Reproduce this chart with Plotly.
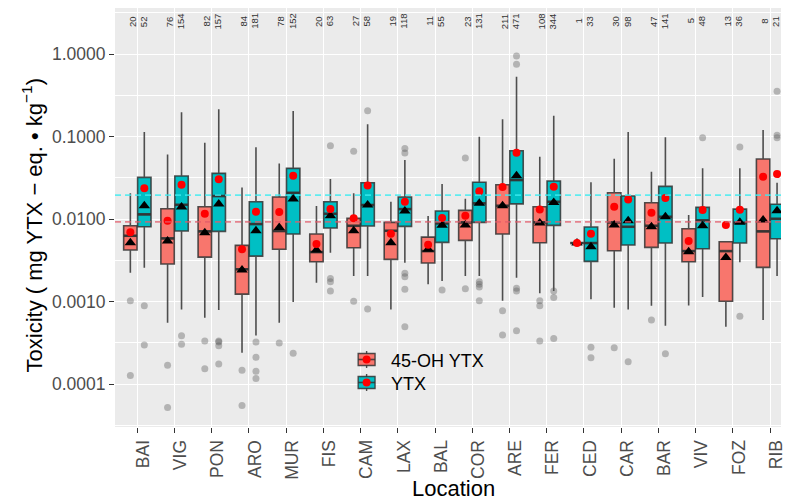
import numpy as np
import plotly.graph_objects as go

# ---------------- data ----------------
locations = ["BAI", "VIG", "PON", "ARO", "MUR", "FIS", "CAM", "LAX", "BAL",
             "COR", "ARE", "FER", "CED", "CAR", "BAR", "VIV", "FOZ", "RIB"]

# 45-OH YTX (mg YTX-eq./kg)
oh_n = [20, 76, 82, 84, 78, 20, 27, 19, 11, 23, 211, 108, 1, 30, 47, 5, 13, 8]
oh_q1 = [0.00421, 0.00285, 0.00346, 0.00123, 0.00430, 0.00304, 0.00449, 0.00325, 0.00293,
         0.00552, 0.00658, 0.00516, 0.00512, 0.00413, 0.00454, 0.00304, 0.00101, 0.00260]
oh_median = [0.00628, 0.00583, 0.00710, 0.00246, 0.00716, 0.00398, 0.00830, 0.00722, 0.00409,
             0.00912, 0.0145, 0.00912, 0.00512, 0.00912, 0.00830, 0.00409, 0.00409, 0.00710]
oh_q3 = [0.00830, 0.01333, 0.0141, 0.00480, 0.0185, 0.00658, 0.0102, 0.00912, 0.00605,
         0.01275, 0.0261, 0.0141, 0.00512, 0.0208, 0.0158, 0.00763, 0.00531, 0.0534]
oh_low = [0.00223, 0.000553, 0.000637, 0.000239, 0.000553, 0.00169, 0.00204, 0.000804, 0.00162,
          0.00204, 0.00102, 0.00126, 0.00512, 0.000841, 0.00089, 0.000899, 0.000495, 0.000597]
oh_high = [0.0205, 0.0608, 0.0841, 0.0242, 0.0473, 0.0144, 0.0205, 0.0162, 0.01087,
           0.0176, 0.1616, 0.0569, 0.00512, 0.0538, 0.0374, 0.0112, 0.00531, 0.120]
oh_mean = [0.0069, 0.00953, 0.0116, 0.0043, 0.01216, 0.00498, 0.0102, 0.00664, 0.00488,
           0.01096, 0.0244, 0.0131, 0.00512, 0.0141, 0.0119, 0.00541, 0.00846, 0.0326]
oh_gmean = [0.00516, 0.00541, 0.00682, 0.00241, 0.00793, 0.00421, 0.00722, 0.00516, 0.0043,
            0.00846, 0.0145, 0.00894, 0.00512, 0.00846, 0.00807, 0.00401, 0.00343, 0.00973]
oh_outliers = [[0.00102, 0.000127], [0.000169, 0.0000522], [0.000332, 0.000153],
               [0.000147, 0.0000552], [0.000314], [], [0.0662, 0.00101], [], [],
               [0.0549, 0.00143], [0.000774, 0.000393], [0.00102, 0.00089, 0.000332],
               [], [0.000275], [0.000597], [], [], []]

# YTX (mg YTX-eq./kg)
ytx_n = [52, 154, 157, 181, 152, 63, 58, 118, 55, 131, 471, 344, 33, 98, 141, 48, 36, 21]
ytx_q1 = [0.00807, 0.00716, 0.0071, 0.00356, 0.00658, 0.00778, 0.00823, 0.00816, 0.00522,
          0.00912, 0.0153, 0.00839, 0.00307, 0.00484, 0.00512, 0.00437, 0.00512, 0.00577]
ytx_median = [0.0114, 0.0149, 0.019, 0.0087, 0.0208, 0.0116, 0.0148, 0.0132, 0.00887,
              0.0155, 0.0297, 0.0162, 0.00512, 0.00807, 0.01067, 0.00964, 0.00902, 0.01009]
ytx_q3 = [0.032, 0.0332, 0.0358, 0.0162, 0.0412, 0.0162, 0.0275, 0.0185, 0.0125,
          0.0279, 0.0673, 0.0289, 0.008, 0.019, 0.0249, 0.01386, 0.0132, 0.0151]
ytx_low = [0.00257, 0.000804, 0.000789, 0.000389, 0.000986, 0.00391, 0.00204, 0.00295, 0.00177,
           0.00204, 0.00194, 0.00134, 0.00107, 0.000804, 0.000509, 0.00114, 0.00299, 0.00204]
ytx_high = [0.1134, 0.1966, 0.2137, 0.074, 0.2037, 0.0305, 0.1406, 0.0519, 0.0266,
            0.0995, 0.531, 0.1787, 0.0279, 0.1134, 0.0978, 0.0412, 0.0412, 0.0275]
ytx_mean = [0.0236, 0.0261, 0.0303, 0.01226, 0.0335, 0.0132, 0.0256, 0.0162, 0.01028,
            0.0218, 0.0636, 0.0246, 0.00664, 0.0173, 0.018, 0.01285, 0.013, 0.0351]
ytx_gmean = [0.0145, 0.01397, 0.0152, 0.00722, 0.0175, 0.01096, 0.0148, 0.0125, 0.00839,
             0.0155, 0.0335, 0.0159, 0.00462, 0.00953, 0.01067, 0.0083, 0.00912, 0.0126]
ytx_outliers = [[0.00089, 0.000297], [0.000385, 0.000305],
                [0.000332, 0.000323, 0.000291, 0.000175],
                [0.000323, 0.000211, 0.000143, 0.000117], [0.000236],
                [0.0774, 0.00191, 0.00174, 0.00134], [0.2055, 0.000811],
                [0.0719, 0.0631, 0.0022, 0.002, 0.00141, 0.000495], [0.00138],
                [0.00174, 0.00162, 0.0015, 0.00102], [0.946, 0.75, 0.00145, 0.00134, 0.000443],
                [0.00134, 0.00112, 0.000358], [0.000279, 0.000208], [0.000186], [0.000233],
                [0.0967], [0.0746, 0.000662], [0.353, 0.1034, 0.0967]]

# overall reference levels (dashed lines)
oh_overall = 0.00927
ytx_overall = 0.0195

y_tick_vals = [0.0001, 0.001, 0.01, 0.1, 1.0]
y_tick_text = ["0.0001", "0.0010", "0.0100", "0.1000", "1.0000"]

# ---------------- styling / layout constants ----------------
FONT = "Liberation Sans, Arial, Helvetica, sans-serif"
RED = "#F8766D"
CYAN = "#00BFC4"
EDGE = "rgba(51,51,51,0.85)"
W, H = 786, 500
M_L, M_R, M_T, M_B = 115, 0, 8, 73
DODGE = 0.1875
BOX_W = 0.36
X_LO = -0.6
X_HI = X_LO + (W - M_L - M_R) / 37.5
Y_RANGE = [-4.52, 0.558]

idx = np.arange(len(locations))
oh_x = idx - DODGE
ytx_x = idx + DODGE

fig = go.Figure()


def add_group(xpos, q1, med, q3, lo, hi, fill, outliers):
    # outlying samples
    ox, oy = [], []
    for xv, vals in zip(xpos, outliers):
        ox += [xv] * len(vals)
        oy += vals
    fig.add_trace(go.Scatter(x=ox, y=oy, mode="markers", showlegend=False, hoverinfo="skip",
                             marker=dict(size=7, color="rgba(90,90,90,0.38)", line=dict(width=0))))
    fig.add_trace(go.Box(x=xpos, q1=q1, median=med, q3=q3, lowerfence=lo, upperfence=hi,
                         width=BOX_W, fillcolor=fill, line=dict(color=EDGE, width=1.6),
                         whiskerwidth=0, boxpoints=False, showlegend=False, hoverinfo="skip"))
    # thicker median bars
    mx, my = [], []
    for xv, m in zip(xpos, med):
        mx += [xv - BOX_W / 2, xv + BOX_W / 2, None]
        my += [m, m, None]
    fig.add_trace(go.Scatter(x=mx, y=my, mode="lines", showlegend=False, hoverinfo="skip",
                             line=dict(color="rgba(51,51,51,0.9)", width=2.6)))


add_group(oh_x, oh_q1, oh_median, oh_q3, oh_low, oh_high, RED, oh_outliers)
add_group(ytx_x, ytx_q1, ytx_median, ytx_q3, ytx_low, ytx_high, CYAN, ytx_outliers)

# summary markers
fig.add_trace(go.Scatter(x=np.concatenate([oh_x, ytx_x]), y=oh_gmean + ytx_gmean, mode="markers",
                         showlegend=False, hoverinfo="skip",
                         marker=dict(symbol="triangle-up", size=10, color="black")))
fig.add_trace(go.Scatter(x=np.concatenate([oh_x, ytx_x]), y=oh_mean + ytx_mean, mode="markers",
                         showlegend=False, hoverinfo="skip",
                         marker=dict(symbol="circle", size=8, color="#FF0000")))

# overall reference lines
for lvl, col in [(ytx_overall, "rgba(60,235,240,0.8)"), (oh_overall, "rgba(225,90,105,0.72)")]:
    fig.add_trace(go.Scatter(x=[X_LO, X_HI], y=[lvl, lvl], mode="lines", showlegend=False,
                             hoverinfo="skip", line=dict(color=col, width=1.8, dash="6px,4px")))

annotations = []
# sample sizes along the top
for i in range(len(locations)):
    for xv, n in [(idx[i] - 0.15, oh_n[i]), (idx[i] + 0.15, ytx_n[i])]:
        annotations.append(dict(x=xv, y=np.log10(2.5), xref="x", yref="y", text=str(n),
                                textangle=-90, showarrow=False, xanchor="center", yanchor="middle",
                                font=dict(family=FONT, size=9.5, color="#333333")))

# axis titles
annotations.append(dict(x=(len(locations) - 1) / 2, y=-0.146, xref="x", yref="paper",
                        text="Location", showarrow=False, xanchor="center", yanchor="middle",
                        font=dict(family=FONT, size=22, color="black")))
annotations.append(dict(x=-0.124, y=0.482, xref="paper", yref="paper",
                        text="Toxicity ( mg YTX \u2212 eq. \u2022 kg<sup>\u22121</sup>)",
                        textangle=-90, showarrow=False, xanchor="center", yanchor="middle",
                        font=dict(family=FONT, size=22, color="black")))

# legend drawn inside the panel
PW, PH = W - M_L - M_R, H - M_T - M_B


def px(xp):
    return (xp - M_L) / PW


def py(yp):
    return (H - M_B - yp) / PH


shapes = []
for label, fill, cy in [("45-OH YTX", RED, 359.5), ("YTX", CYAN, 382.5)]:
    kx = 368.5
    shapes.append(dict(type="line", xref="paper", yref="paper", x0=px(kx), x1=px(kx),
                       y0=py(cy - 8.5), y1=py(cy + 8.5), line=dict(color=EDGE, width=1.4)))
    shapes.append(dict(type="rect", xref="paper", yref="paper", x0=px(kx - 8.5), x1=px(kx + 8.5),
                       y0=py(cy - 6), y1=py(cy + 6), fillcolor=fill, line=dict(color=EDGE, width=1.4)))
    shapes.append(dict(type="line", xref="paper", yref="paper", x0=px(kx - 8.5), x1=px(kx + 8.5),
                       y0=py(cy), y1=py(cy), line=dict(color=EDGE, width=1.6)))
    shapes.append(dict(type="circle", xref="paper", yref="paper", xsizemode="pixel", ysizemode="pixel",
                       xanchor=px(kx), yanchor=py(cy), x0=-4, x1=4, y0=-4, y1=4,
                       fillcolor="#FF0000", line=dict(width=0)))
    annotations.append(dict(x=px(391), y=py(cy + 1), xref="paper", yref="paper", text=label,
                            showarrow=False, xanchor="left", yanchor="middle",
                            font=dict(family=FONT, size=18, color="black")))

fig.update_layout(
    width=W, height=H,
    margin=dict(l=M_L, r=M_R, t=M_T, b=M_B, pad=0),
    paper_bgcolor="white", plot_bgcolor="#EBEBEB",
    font=dict(family=FONT, color="#4D4D4D"),
    boxmode="overlay",
    showlegend=False,
    annotations=annotations,
    shapes=shapes,
    xaxis=dict(range=[X_LO, X_HI], tickmode="array", tickvals=idx, ticktext=locations,
               tickangle=-90, ticks="outside", ticklen=5, tickwidth=1.1, tickcolor="#333333",
               tickfont=dict(family=FONT, size=17.5, color="#4D4D4D"),
               showgrid=True, gridcolor="white", gridwidth=1.3, zeroline=False, showline=False,
               ticklabelshift=6, ticklabeloverflow="allow"),
    yaxis=dict(type="log", range=Y_RANGE, tickmode="array", tickvals=y_tick_vals,
               ticktext=y_tick_text, ticks="outside", ticklen=5, tickwidth=1.1,
               tickcolor="#333333", tickfont=dict(family=FONT, size=17.5, color="#4D4D4D"),
               showgrid=True, gridcolor="white", gridwidth=1.3, zeroline=False, showline=False,
               minor=dict(tickvals=[10 ** (k + 0.5) for k in range(-5, 1)], showgrid=True,
                          gridcolor="white", gridwidth=0.6, ticks="")),
)

fig.write_html("out.html")
